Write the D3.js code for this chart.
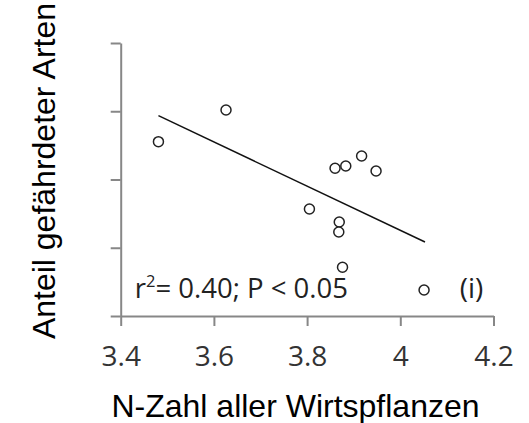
<!DOCTYPE html>
<html>
<head>
<meta charset="utf-8">
<script src="https://cdn.jsdelivr.net/npm/d3@7"></script>
<style>
  body { margin: 0; background: #fff; }
  .axis path, .axis line { stroke: #878787; stroke-width: 2; }
  .axis text { font-family: 'Open Sans', sans-serif; font-size: 28px; fill: #333; }
</style>
</head>
<body>
<script>
// values
let nZahl  = [3.481, 3.626, 3.860, 3.883, 3.917, 3.948, 3.805, 3.869, 3.868, 3.876, 4.051]
let anteil = [2.554, 3.018, 2.164, 2.198, 2.344, 2.125, 1.568, 1.377, 1.231, 0.714, 0.381]
let fitX = [3.481, 4.053]
let fitY = [2.935, 1.084]
let xTicks = [3.4, 3.6, 3.8, 4.0, 4.2]
let yTicks = [0, 1, 2, 3, 4]

let margins = { top: 43, right: 35.5, bottom: 107, left: 120.7 }
let W = 529, H = 423
let width = W - margins.left - margins.right
let height = H - margins.top - margins.bottom

let x = d3.scaleLinear()
  .domain([3.4, 4.2])
  .range([0, width])

let y = d3.scaleLinear()
  .domain([0, 4])
  .range([height, 0])

let root = d3.select('body').append('svg')
  .attr('width', W)
  .attr('height', H)

let svg = root.append('g')
  .attr('transform', 'translate(' + [margins.left, margins.top] + ')')

svg.append('g')
  .attr('class', 'axis y')
  .call(d3.axisLeft(y)
    .tickValues(yTicks)
    .tickSize(10)
    .tickSizeOuter(0)
    .tickFormat(''))

svg.append('g')
  .attr('class', 'axis x')
  .attr('transform', 'translate(' + [0, height] + ')')
  .call(d3.axisBottom(x)
    .tickValues(xTicks)
    .tickSize(10)
    .tickSizeOuter(0)
    .tickPadding(20)
    .tickFormat((d) => String(+d.toFixed(1))))

let line = d3.line()
  .x((d) => x(d[0]))
  .y((d) => y(d[1]))

svg.append('path')
  .attr('d', line(d3.zip(fitX, fitY)))
  .attr('fill', 'none')
  .attr('stroke', '#111')
  .attr('stroke-width', 1.5)

svg.selectAll('circle')
  .data(d3.zip(nZahl, anteil))
  .enter().append('circle')
  .attr('cx', (d) => x(d[0]))
  .attr('cy', (d) => y(d[1]))
  .attr('r', 5)
  .attr('fill', 'white')
  .attr('stroke', '#222')
  .attr('stroke-width', 1.5)

let stat = svg.append('text')
  .attr('x', 14)
  .attr('y', 255)
  .attr('font-family', "'Open Sans', sans-serif")
  .attr('font-size', 27.5)
  .attr('fill', '#222')
stat.append('tspan').text('r')
stat.append('tspan').attr('font-size', 16.5).attr('dy', -11).text('2')
stat.append('tspan').attr('dy', 11).text('= 0.40; P < 0.05')

svg.append('text')
  .attr('x', 339)
  .attr('y', 255)
  .attr('font-family', "'Open Sans', sans-serif")
  .attr('font-size', 28)
  .attr('fill', '#222')
  .text('(i)')

root.append('text')
  .attr('x', 295.5)
  .attr('y', 417)
  .attr('text-anchor', 'middle')
  .attr('font-family', "'Liberation Sans', Arial, sans-serif")
  .attr('font-size', 32)
  .text('N-Zahl aller Wirtspflanzen')

root.append('text')
  .attr('transform', 'translate(55,171) rotate(-90)')
  .attr('text-anchor', 'middle')
  .attr('font-family', "'Liberation Sans', Arial, sans-serif")
  .attr('font-size', 32)
  .text('Anteil gefährdeter Arten')
</script>
</body>
</html>
